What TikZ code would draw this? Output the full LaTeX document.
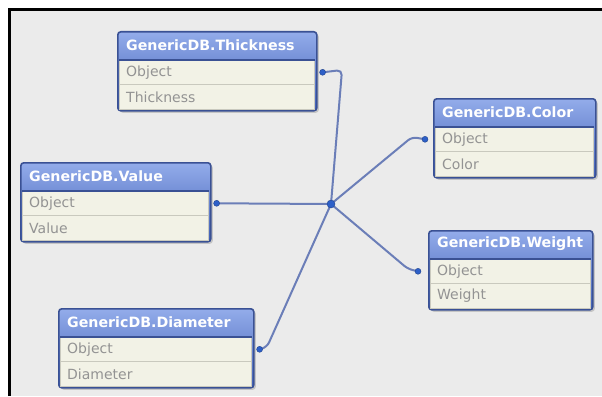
\documentclass[tikz,border=0pt]{standalone}
\usepackage{fontspec}
\setmainfont{DejaVu Sans}
\usetikzlibrary{calc,shadows}
\definecolor{bgc}{HTML}{EBEBEB}
\definecolor{frame}{HTML}{3A5194}
\definecolor{htop}{HTML}{93ACEA}
\definecolor{hbot}{HTML}{3F5EB6}
\definecolor{cream}{HTML}{F2F2E6}
\definecolor{sepc}{HTML}{C9C9BE}
\definecolor{rowtxt}{HTML}{939393}
\definecolor{linkc}{HTML}{6B7EB8}
\definecolor{dotc}{HTML}{2D5FC8}
\tikzset{
  tbox/.style={draw=frame, line width=1.6pt, rounded corners=3pt,
    top color=htop, bottom color=hbot, minimum height=79pt, inner sep=0pt,
    drop shadow={opacity=0.35, shadow xshift=2pt, shadow yshift=-2pt}},
  tbody/.style={fill=cream, draw=sepc, line width=0.6pt, minimum height=49pt, inner sep=0pt},
  hline/.style={draw=frame, line width=1.6pt},
  sepl/.style={draw=sepc, line width=0.8pt},
  htext/.style={text=white, font=\bfseries\fontsize{14.2}{16}\selectfont, inner sep=0pt},
  rtext/.style={text=rowtxt, font=\fontsize{14}{16}\selectfont, inner sep=0pt},
  link/.style={draw=linkc, line width=2pt, rounded corners=5pt},
  portdot/.style={circle, fill=dotc, draw=dotc!70!black, line width=0.4pt, minimum size=6pt, inner sep=0pt},
  hubdot/.style={circle, fill=dotc, draw=dotc!70!black, line width=0.4pt, minimum size=8pt, inner sep=0pt},
}
% id, left, top, width, title, field
\newcommand\dbtable[6]{%
  \node[tbox, minimum width=#4pt, anchor=north west] (#1) at (#2,#3) {};
  \node[tbody, minimum width=#4pt-4pt, anchor=south west] (#1-b) at ($(#1.south west)+(2,-2)$) {};
  \draw[hline] (#1-b.north west) -- (#1-b.north east);
  \draw[sepl] (#1-b.west) -- (#1-b.east);
  \node[htext, anchor=west] (#1-h) at ($(#1.north west)+(9,14)$) {#5};
  \node[rtext, anchor=west] (#1-o) at ($(#1-b.west)+(7,-12.5)$) {Object};
  \node[rtext, anchor=west] (#1-f) at ($(#1-b.west)+(7,12)$) {#6};
}
\begin{document}
\begin{tikzpicture}[x=1pt,y=-1pt]
\useasboundingbox (0,0) rectangle (602,396);
\fill[white] (0,0) rectangle (602,396);
\fill[bgc] (9,9) rectangle (602,396);
\draw[black, line width=2.5pt] (9.5,396) -- (9.5,9.5) -- (602,9.5);

\dbtable{T}{117}{31}{199}{GenericDB.Thickness}{Thickness}
\dbtable{C}{433}{98}{162}{GenericDB.Color}{Color}
\dbtable{V}{20}{162}{190}{GenericDB.Value}{Value}
\dbtable{W}{428}{230}{164}{GenericDB.Weight}{Weight}
\dbtable{D}{58}{308}{195}{GenericDB.Diameter}{Diameter}

% port positions
\coordinate (T-p) at ($(T.east |- T-o)+(5,0)$);
\coordinate (C-p) at ($(C.west |- C-o)+(-8,0)$);
\coordinate (V-p) at ($(V.east |- V-o)+(5,0)$);
\coordinate (W-p) at ($(W.west |- W-o)+(-10,0)$);
\coordinate (D-p) at ($(D.east |- D-o)+(5,0)$);
\coordinate (hub) at (331,204);
\coordinate (T-bend) at (342,70);
\coordinate (C-bend) at (412,137);
\coordinate (W-bend) at (408,269);
\coordinate (D-bend) at (267,347);

\draw[link] (T-p) -- (T-bend) -- (hub);
\draw[link] (V-p) -- (hub);
\draw[link] (hub) -- (C-bend) -- (C-p);
\draw[link] (hub) -- (W-bend) -- (W-p);
\draw[link] (D-p) -- (D-bend) -- (hub);

\node[portdot] (T-dot) at (T-p) {};
\node[portdot] (C-dot) at (C-p) {};
\node[portdot] (V-dot) at (V-p) {};
\node[portdot] (W-dot) at (W-p) {};
\node[portdot] (D-dot) at (D-p) {};
\node[hubdot] (hub-dot) at (hub) {};
\end{tikzpicture}
\end{document}
